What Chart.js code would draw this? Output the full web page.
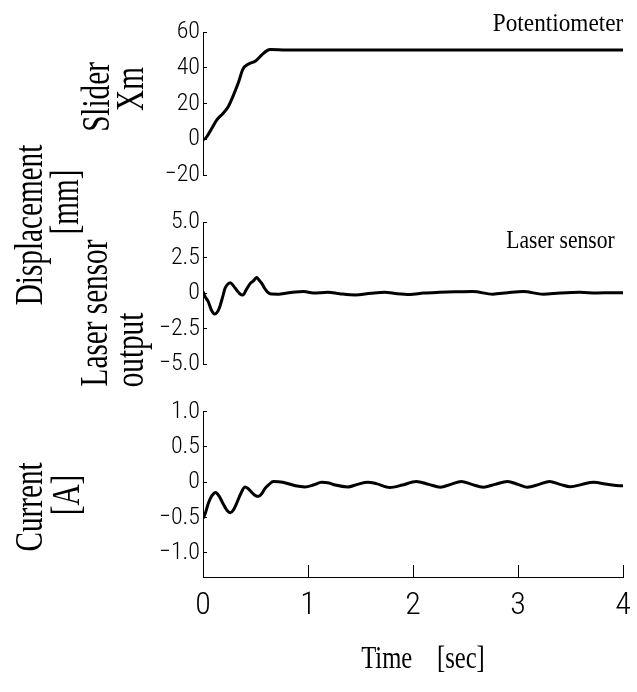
<!DOCTYPE html>
<html>
<head>
<meta charset="utf-8">
<script src="https://cdn.jsdelivr.net/npm/chart.js@4.4.1/dist/chart.umd.min.js"></script>
<style>
  html, body { margin: 0; padding: 0; background: #fff; }
  #fig { position: relative; width: 637px; height: 692px; overflow: hidden; }
  #fig canvas { position: absolute; left: 0; }
  .lbl { position: absolute; font-family: 'Liberation Serif', 'Times New Roman', serif; color: #000; white-space: pre; line-height: 1; }
  .rot { font-size: 40px; transform: translate(-50%, -50%) rotate(-90deg) scaleX(0.73); }
</style>
</head>
<body>
<div id="fig">
  <canvas id="sliderChart" width="637" height="200" style="top:0px"></canvas>
  <canvas id="laserChart" width="637" height="190" style="top:200px"></canvas>
  <canvas id="currentChart" width="637" height="302" style="top:390px"></canvas>

  <div class="lbl rot" style="left:96px; top:97px">Slider</div>
  <div class="lbl rot" style="left:130px; top:89px">Xm</div>
  <div class="lbl rot" style="left:29px; top:225px">Displacement</div>
  <div class="lbl rot" style="left:65px; top:202px">[mm]</div>
  <div class="lbl rot" style="left:94px; top:313px">Laser sensor</div>
  <div class="lbl rot" style="left:130px; top:350px">output</div>
  <div class="lbl rot" style="left:29px; top:507px">Current</div>
  <div class="lbl rot" style="left:66px; top:495px">[A]</div>

  <div class="lbl" style="right:14px; top:10px; font-size:25px; transform-origin:right center; transform:scaleX(0.93)">Potentiometer</div>
  <div class="lbl" style="right:22px; top:227px; font-size:26px; transform-origin:right center; transform:scaleX(0.83)">Laser sensor</div>
  <div class="lbl" style="left:423px; top:657px; font-size:32px; transform:translate(-50%, -50%) scaleX(0.77)">Time    [sec]</div>
</div>

<script>
// time axis (sec)
const timeTicks = [0, 1, 2, 3, 4];

// slider position, potentiometer [mm]
const sliderTime = [0, 0.01, 0.035, 0.083, 0.13, 0.19, 0.24, 0.29, 0.34, 0.38, 0.43, 0.50, 0.56, 0.61, 0.64, 0.8, 1.0, 1.5, 2.0, 2.5, 3.0, 3.5, 4.0];
const sliderXm   = [0, 0, 1.3, 6.0, 10.7, 14.4, 18.2, 24.7, 32.2, 39.2, 42.0, 43.8, 47.2, 49.6, 50.2, 50, 50, 50, 50, 50, 50, 50, 50];
const sliderTicks = [-20, 0, 20, 40, 60];
const sliderTickLabels = ['\u221220', '0', '20', '40', '60'];

// laser sensor output [mm]
const laserTime = [0, 0.02, 0.05, 0.08, 0.11, 0.14, 0.16, 0.19, 0.21, 0.24, 0.26, 0.29, 0.32, 0.35, 0.38, 0.41, 0.45, 0.48, 0.51, 0.535, 0.56, 0.585, 0.61, 0.65, 0.72, 0.80, 0.88, 0.96, 1.05, 1.19, 1.30, 1.45, 1.60, 1.73, 1.85, 1.97, 2.10, 2.25, 2.40, 2.57, 2.76, 2.90, 3.05, 3.24, 3.40, 3.59, 3.75, 3.90, 4.0];
const laserOutput = [0.1, -0.26, -0.6, -1.2, -1.48, -1.3, -0.96, -0.2, 0.33, 0.65, 0.73, 0.5, 0.21, -0.05, -0.14, 0.2, 0.68, 0.85, 1.1, 0.9, 0.68, 0.35, 0.1, -0.07, -0.08, 0.0, 0.07, 0.1, 0.0, 0.05, -0.05, -0.14, -0.02, 0.05, -0.05, -0.1, 0.0, 0.05, 0.08, 0.1, -0.08, 0.02, 0.1, -0.08, 0.0, 0.05, 0.0, 0.02, 0.02];
const laserTicks = [-5, -2.5, 0, 2.5, 5];
const laserTickLabels = ['\u22125.0', '\u22122.5', '0', '2.5', '5.0'];

// coil current [A]
const currentTime = [0, 0.02, 0.05, 0.085, 0.12, 0.155, 0.19, 0.23, 0.26, 0.29, 0.32, 0.36, 0.40, 0.43, 0.46, 0.50, 0.53, 0.56, 0.59, 0.63, 0.67, 0.76, 0.88, 0.97, 1.05, 1.13, 1.20, 1.26, 1.38, 1.47, 1.57, 1.65, 1.78, 1.90, 2.03, 2.15, 2.26, 2.36, 2.46, 2.56, 2.67, 2.78, 2.90, 3.00, 3.09, 3.20, 3.30, 3.40, 3.50, 3.61, 3.72, 3.85, 3.97, 4.0];
const currentA = [-0.51, -0.45, -0.3, -0.19, -0.145, -0.2, -0.3, -0.4, -0.43, -0.39, -0.3, -0.16, -0.066, -0.09, -0.136, -0.19, -0.2, -0.16, -0.09, -0.03, 0.01, 0.0, -0.05, -0.066, -0.04, 0.0, -0.01, -0.04, -0.066, -0.03, 0.0, -0.02, -0.075, -0.04, 0.01, -0.03, -0.07, -0.03, 0.01, -0.03, -0.07, -0.03, 0.01, -0.03, -0.07, -0.03, 0.01, -0.03, -0.065, -0.03, 0.0, -0.03, -0.05, -0.05];
const currentTicks = [-1, -0.5, 0, 0.5, 1];
const currentTickLabels = ['\u22121.0', '\u22120.5', '0', '0.5', '1.0'];

const tickFont = "'Roboto Condensed', Roboto, 'Liberation Sans', sans-serif";

function makePanel(id, times, values, yMin, yMax, ticks, labels, padding, showTime) {
    const ctx = document.getElementById(id).getContext('2d');
    return new Chart(ctx, {
        type: 'line',
        data: {
            datasets: [{
                data: times.map((t, i) => ({ x: t, y: values[i] })),
                borderColor: '#000',
                borderWidth: 3,
                pointRadius: 0,
                fill: false,
                cubicInterpolationMode: 'monotone'
            }]
        },
        options: {
            responsive: false,
            animation: false,
            devicePixelRatio: 1,
            layout: { padding: padding },
            plugins: { legend: { display: false }, tooltip: { enabled: false } },
            scales: {
                x: {
                    type: 'linear',
                    min: 0,
                    max: 4,
                    display: showTime,
                    afterBuildTicks: s => { s.ticks = timeTicks.map(v => ({ value: v })); },
                    afterFit: s => {
                        s.height = showTime ? 115 : 0;
                        s.paddingLeft = 0;
                        s.paddingRight = 0;
                    },
                    grid: { drawOnChartArea: false, drawTicks: true, tickLength: -12, color: '#000' },
                    border: { display: true, color: '#000', width: 1 },
                    ticks: {
                        padding: 22,
                        color: '#000',
                        maxRotation: 0,
                        font: { family: tickFont, size: 32, weight: '300' },
                        callback: v => String(v)
                    }
                },
                y: {
                    type: 'linear',
                    min: yMin,
                    max: yMax,
                    afterBuildTicks: s => { s.ticks = ticks.map(v => ({ value: v })); },
                    afterFit: s => { s.width = 203; },
                    grid: { drawOnChartArea: false, drawTicks: true, tickLength: -4, color: '#000' },
                    border: { display: true, color: '#000', width: 1 },
                    ticks: {
                        padding: 7,
                        color: '#000',
                        font: { family: tickFont, size: 24, weight: '300' },
                        callback: (v, i) => labels[i]
                    }
                }
            }
        }
    });
}

makePanel('sliderChart', sliderTime, sliderXm, -20, 60, sliderTicks, sliderTickLabels,
    { top: 32, bottom: 25, left: 0, right: 14 }, false);
makePanel('laserChart', laserTime, laserOutput, -5, 5, laserTicks, laserTickLabels,
    { top: 22, bottom: 26, left: 0, right: 14 }, false);
makePanel('currentChart', currentTime, currentA, -1.34, 1, currentTicks, currentTickLabels,
    { top: 21.5, bottom: 0, left: 0, right: 14 }, true);
</script>
</body>
</html>
